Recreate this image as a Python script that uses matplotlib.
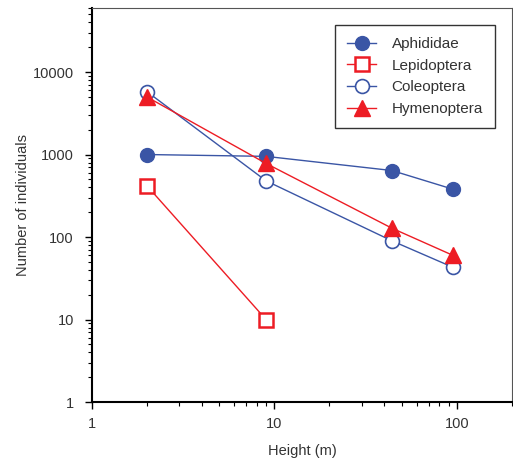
import matplotlib
matplotlib.use('Agg')
import matplotlib.pyplot as plt
from matplotlib.ticker import LogLocator, NullFormatter, FixedLocator, FixedFormatter

# 字体与颜色
matplotlib.rcParams['font.family'] = ['Liberation Sans', 'DejaVu Sans']
TXT = '#333333'
BLUE = '#3a55a5'
RED = '#ed1c24'

# 数据
height = [2, 9, 44, 95]
aphididae = [1000, 950, 640, 380]
lepidoptera_h = [2, 9]
lepidoptera = [420, 10]
coleoptera = [5800, 480, 90, 43]
hymenoptera = [5000, 780, 128, 60]

x_ticks = [1, 10, 100]
y_ticks = [1, 10, 100, 1000, 10000]

fig = plt.figure(figsize=(5.13, 4.59), dpi=100)
ax = fig.add_axes([0.179, 0.124, 0.819, 0.859])

ax.plot(height, aphididae, '-o', color=BLUE, lw=1, ms=10, mfc=BLUE, mec=BLUE,
        label='Aphididae', zorder=3)
ax.plot(lepidoptera_h, lepidoptera, '-s', color=RED, lw=1, ms=10, mfc='white',
        mec=RED, mew=1.8, label='Lepidoptera', zorder=3)
ax.plot(height, coleoptera, '-o', color=BLUE, lw=1, ms=10, mfc='white', mec=BLUE,
        mew=1.2, label='Coleoptera', zorder=3)
ax.plot(height, hymenoptera, '-^', color=RED, lw=1, ms=11, mfc=RED, mec=RED,
        label='Hymenoptera', zorder=4)

ax.set_xscale('log')
ax.set_yscale('log')
ax.set_xlim(1, 200)
ax.set_ylim(1, 60000)

ax.xaxis.set_major_locator(FixedLocator(x_ticks))
ax.xaxis.set_major_formatter(FixedFormatter([str(v) for v in x_ticks]))
ax.yaxis.set_major_locator(FixedLocator(y_ticks))
ax.yaxis.set_major_formatter(FixedFormatter([str(v) for v in y_ticks]))
for a in (ax.xaxis, ax.yaxis):
    a.set_minor_locator(LogLocator(base=10, subs=range(2, 10)))
    a.set_minor_formatter(NullFormatter())

ax.tick_params(which='major', direction='out', length=5, width=1, colors='black',
               labelcolor=TXT, labelsize=10.5)
ax.tick_params(axis='x', which='major', pad=6)
ax.tick_params(axis='y', which='major', pad=8)
ax.tick_params(which='minor', direction='out', length=3, width=0.8, colors='black')

ax.spines['left'].set_linewidth(1.5)
ax.spines['bottom'].set_linewidth(1.5)
ax.spines['top'].set_color('#555555')
ax.spines['right'].set_color('#555555')
ax.spines['top'].set_linewidth(0.8)
ax.spines['right'].set_linewidth(0.8)

ax.set_xlabel('Height (m)', color=TXT, fontsize=10.5, labelpad=9)
ax.set_ylabel('Number of individuals', color=TXT, fontsize=10.5, labelpad=2)

leg = ax.legend(loc='upper right', bbox_to_anchor=(0.96, 0.957), borderaxespad=0,
                fancybox=False, edgecolor='#333333', framealpha=1, fontsize=11,
                handlelength=1.9, labelspacing=0.5, borderpad=0.8, handletextpad=1.0)
leg.get_frame().set_linewidth(1)
for t in leg.get_texts():
    t.set_color(TXT)

fig.savefig('out.png', dpi=100)
